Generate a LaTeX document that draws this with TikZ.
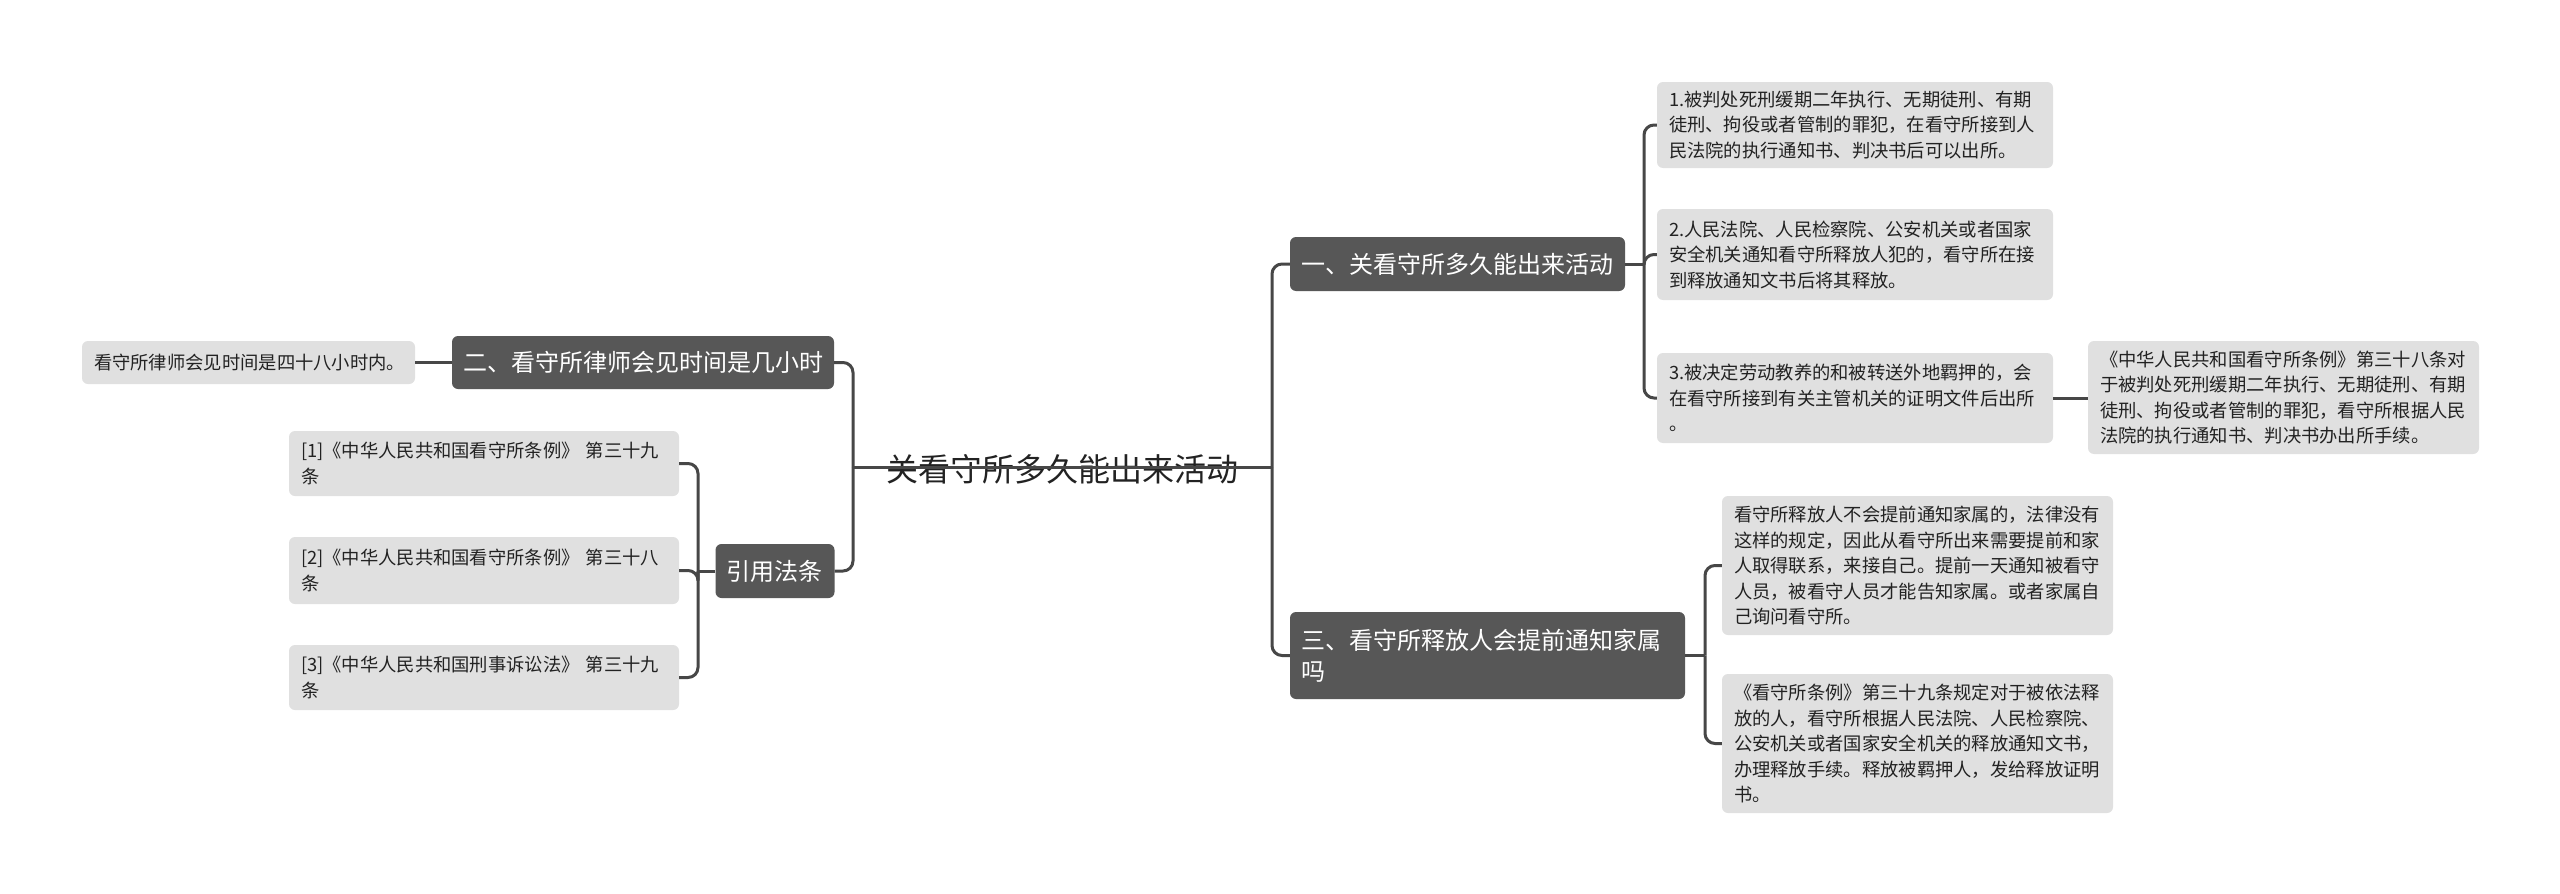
\documentclass[tikz,border=0pt]{standalone}
\usepackage{fontspec}
\setmainfont{Noto Sans CJK SC}
\usetikzlibrary{calc}
\definecolor{dark}{HTML}{575757}
\definecolor{light}{HTML}{E0E0E0}
\definecolor{ink}{HTML}{222222}
\definecolor{linec}{HTML}{474747}
\begin{document}
\begin{tikzpicture}[x=1pt,y=-1pt,
  leaf/.style={fill=light, rounded corners=6pt, text=ink, align=left, inner xsep=12pt, inner ysep=0pt,
    font=\fontsize{18.3}{25.5}\selectfont},
  topic/.style={fill=dark, rounded corners=6pt, text=white, align=left, inner xsep=11pt, inner ysep=0pt,
    font=\fontsize{24}{31}\selectfont},
  conn/.style={draw=linec, line width=3pt},
  elbow/.style={conn, rounded corners=10pt}]
\useasboundingbox (0,0) rectangle (2560,894);
\fill[white] (0,0) rectangle (2560,894);

% root
\node[text=ink, font=\fontsize{32}{36}\selectfont, inner sep=0pt] (root) at (1062,469) {关看守所多久能出来活动};
\coordinate (rl) at (853,467);
\coordinate (rr) at (1272,467);

% right branch 1
\node[topic, text width=313pt, minimum height=54pt] (b1) at (1457.5,264) {一、关看守所多久能出来活动};
\node[leaf, text width=372pt, minimum height=86pt] (c11) at (1855,125) {1.被判处死刑缓期二年执行、无期徒刑、有期\\徒刑、拘役或者管制的罪犯，在看守所接到人\\民法院的执行通知书、判决书后可以出所。};
\node[leaf, text width=372pt, minimum height=91pt] (c12) at (1855,254.5) {2.人民法院、人民检察院、公安机关或者国家\\安全机关通知看守所释放人犯的，看守所在接\\到释放通知文书后将其释放。};
\node[leaf, text width=372pt, minimum height=90pt] (c13) at (1855,398) {3.被决定劳动教养的和被转送外地羁押的，会\\在看守所接到有关主管机关的证明文件后出所\\。};
\node[leaf, text width=367pt, minimum height=113pt] (c13c) at (2283.5,397.5) {《中华人民共和国看守所条例》第三十八条对\\于被判处死刑缓期二年执行、无期徒刑、有期\\徒刑、拘役或者管制的罪犯，看守所根据人民\\法院的执行通知书、判决书办出所手续。};

% right branch 3
\node[topic, text width=373pt, minimum height=87pt] (b3) at (1487.5,655.5) {三、看守所释放人会提前通知家属\\吗};
\node[leaf, text width=367pt, minimum height=139pt] (c31) at (1917.5,565.5) {看守所释放人不会提前通知家属的，法律没有\\这样的规定，因此从看守所出来需要提前和家\\人取得联系，来接自己。提前一天通知被看守\\人员，被看守人员才能告知家属。或者家属自\\己询问看守所。};
\node[leaf, text width=367pt, minimum height=139pt] (c32) at (1917.5,743.5) {《看守所条例》第三十九条规定对于被依法释\\放的人，看守所根据人民法院、人民检察院、\\公安机关或者国家安全机关的释放通知文书，\\办理释放手续。释放被羁押人，发给释放证明\\书。};

% left branch 2
\node[topic, text width=360pt, minimum height=53pt] (b2) at (643,362.5) {二、看守所律师会见时间是几小时};
\node[leaf, text width=309pt, minimum height=43pt] (c21) at (248.5,362.5) {看守所律师会见时间是四十八小时内。};

% left branch cite
\node[topic, text width=97pt, minimum height=54pt] (cite) at (775,571) {引用法条};
\node[leaf, text width=366pt, minimum height=65pt] (r1) at (484,463.5) {[1]《中华人民共和国看守所条例》 第三十九\\条};
\node[leaf, text width=366pt, minimum height=67pt] (r2) at (484,570.5) {[2]《中华人民共和国看守所条例》 第三十八\\条};
\node[leaf, text width=366pt, minimum height=65pt] (r3) at (484,677.5) {[3]《中华人民共和国刑事诉讼法》 第三十九\\条};

% root connectors
\draw[conn] (rl) -- (rr);
\draw[elbow] (rr) |- (b1.west);
\draw[elbow] (rr) |- (b3.west);
\draw[elbow] (rl) |- (b2.east);
\draw[elbow] (rl) |- (cite.east);

% branch 1 bracket
\coordinate (j1) at (1644,264);
\draw[conn] (b1.east) -- (j1);
\draw[elbow] (j1) |- (c11.west);
\draw[elbow] (j1) |- (c12.west);
\draw[elbow] (j1) |- (c13.west);
\draw[conn] (c13.east) -- (c13.east -| c13c.west);

% branch 3 bracket
\coordinate (j3) at (1705,655.5);
\draw[conn] (b3.east) -- (j3);
\draw[elbow] (j3) |- (c31.west);
\draw[elbow] (j3) |- (c32.west);

% branch 2
\draw[conn] (b2.west) -- (c21.east);

% cite bracket
\coordinate (jc) at (698,571);
\draw[conn] (cite.west) -- (jc);
\draw[elbow] (jc) |- (r1.east);
\draw[elbow] (jc) |- (r2.east);
\draw[elbow] (jc) |- (r3.east);
\end{tikzpicture}
\end{document}
